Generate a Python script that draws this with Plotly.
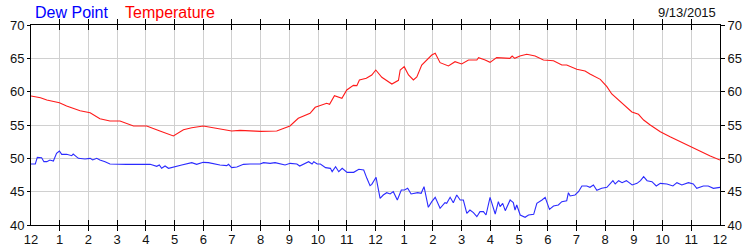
import plotly.graph_objects as go

hour_labels = ["12", "1", "2", "3", "4", "5", "6", "7", "8", "9", "10", "11",
               "12", "1", "2", "3", "4", "5", "6", "7", "8", "9", "10", "11", "12"]
chart_date = "9/13/2015"

temp_hours = [0, 0.33, 0.55, 0.99, 1.24, 1.71, 2.06, 2.4, 2.75, 3.1, 3.57, 4.03, 4.49, 4.96,
              5.31, 5.6, 6.0, 6.47, 6.99, 7.28, 7.63, 8.0, 8.56, 9.02, 9.31, 9.72, 9.9, 10.3,
              10.4, 10.57, 10.83, 11.0, 11.23, 11.35, 11.44, 11.68, 11.87, 12.01, 12.22, 12.57,
              12.8, 12.86, 13.0, 13.15, 13.32, 13.44, 13.61, 13.79, 13.96, 14.08, 14.25, 14.54,
              14.77, 15.0, 15.24, 15.53, 15.59, 15.82, 15.99, 16.22, 16.68, 16.76, 16.85, 17.03,
              17.27, 17.56, 17.85, 18.2, 18.49, 18.66, 19.01, 19.3, 19.47, 19.83, 20.06, 20.23,
              20.52, 20.7, 20.93, 21.16, 21.34, 21.57, 21.92, 22.26, 22.61, 22.96, 23.31, 23.66, 24.0]
temperature = [59.35, 59.1, 58.75, 58.35, 57.85, 57.15, 56.85, 55.95, 55.6, 55.6, 54.85, 54.85,
               54.1, 53.35, 54.3, 54.6, 54.85, 54.5, 54.1, 54.2, 54.1, 54.05, 54.1, 54.85, 56.0,
               56.75, 57.65, 58.25, 58.1, 59.4, 59.0, 60.25, 60.95, 60.9, 61.75, 62.0, 62.5, 63.25,
               62.15, 61.15, 61.7, 63.25, 63.75, 62.5, 61.75, 62.2, 64.0, 64.85, 65.5, 65.75, 64.35,
               63.85, 64.5, 64.15, 64.75, 64.75, 65.1, 64.75, 64.4, 65.1, 65.0, 65.35, 65.0, 65.35,
               65.6, 65.35, 64.75, 64.65, 64.0, 64.0, 63.35, 63.1, 62.65, 61.85, 60.75, 59.65, 58.5,
               57.85, 56.95, 56.6, 55.75, 55.0, 54.0, 53.25, 52.5, 51.75, 51.0, 50.35, 49.75]

dew_hours = [0, 0.15, 0.22, 0.37, 0.45, 0.55, 0.66, 0.78, 0.89, 0.99, 1.07, 1.24, 1.42, 1.47,
             1.65, 1.88, 2.06, 2.15, 2.29, 2.4, 2.58, 2.75, 3.33, 3.8, 4.15, 4.38, 4.47, 4.55,
             4.67, 4.79, 4.96, 5.25, 5.6, 5.77, 6.0, 6.18, 6.58, 6.82, 6.88, 6.99, 7.17, 7.4,
             7.63, 7.98, 8.1, 8.33, 8.5, 8.68, 8.85, 9.03, 9.26, 9.36, 9.5, 9.67, 9.79, 9.85,
             9.97, 10.08, 10.26, 10.43, 10.49, 10.61, 10.72, 10.84, 11.01, 11.24, 11.42, 11.59,
             11.7, 11.81, 11.87, 12.02, 12.16, 12.27, 12.39, 12.51, 12.62, 12.76, 12.9, 13.01,
             13.12, 13.24, 13.47, 13.59, 13.69, 13.84, 13.96, 14.08, 14.25, 14.42, 14.48, 14.6,
             14.71, 14.83, 14.95, 15.06, 15.18, 15.29, 15.41, 15.53, 15.64, 15.76, 15.85, 15.99,
             16.17, 16.28, 16.34, 16.43, 16.52, 16.69, 16.8, 16.86, 16.92, 17.04, 17.21, 17.33,
             17.51, 17.62, 17.8, 17.91, 18.06, 18.2, 18.37, 18.49, 18.66, 18.72, 18.78, 18.95,
             19.07, 19.19, 19.36, 19.47, 19.59, 19.71, 19.88, 20.06, 20.27, 20.35, 20.47, 20.59,
             20.74, 20.94, 21.11, 21.23, 21.34, 21.46, 21.63, 21.78, 21.92, 22.15, 22.36, 22.5,
             22.67, 22.9, 23.07, 23.19, 23.42, 23.59, 23.77, 24.0]
dew_point = [49.15, 49.15, 50.15, 50.1, 49.5, 49.5, 49.75, 49.6, 50.75, 51.1, 50.6, 50.6, 50.4,
             50.65, 50.0, 49.9, 50.0, 49.75, 50.0, 49.75, 49.5, 49.15, 49.1, 49.1, 49.1, 48.8,
             49.0, 48.5, 48.85, 48.5, 48.65, 49.0, 49.35, 49.1, 49.4, 49.35, 49.0, 48.9, 49.1,
             48.6, 48.7, 49.1, 49.15, 49.15, 49.35, 49.25, 49.35, 49.15, 49.0, 49.25, 49.15,
             48.85, 49.15, 49.5, 49.15, 49.5, 49.15, 49.15, 48.6, 48.5, 48.0, 48.75, 48.0, 48.5,
             47.9, 47.9, 48.35, 48.25, 47.0, 45.9, 46.1, 47.15, 44.0, 44.5, 44.85, 44.65, 45.0,
             43.75, 45.25, 45.25, 45.5, 44.65, 44.85, 44.75, 45.75, 42.65, 43.5, 44.15, 42.5,
             43.35, 43.25, 44.15, 43.35, 44.5, 43.75, 43.75, 41.75, 42.25, 41.85, 41.25, 42.0,
             42.0, 41.5, 44.15, 41.65, 43.5, 42.75, 43.25, 42.15, 43.75, 43.35, 42.25, 43.0,
             41.5, 41.15, 41.5, 41.6, 43.25, 43.75, 44.15, 42.35, 42.85, 43.0, 43.5, 43.65,
             44.85, 44.35, 44.5, 45.0, 45.85, 45.85, 45.65, 46.0, 45.2, 45.5, 45.65, 46.65,
             46.15, 46.65, 46.35, 46.65, 46.0, 46.25, 46.65, 47.25, 46.65, 46.5, 45.85, 46.25,
             46.15, 45.85, 46.35, 46.0, 46.35, 46.15, 45.5, 45.85, 45.85, 45.5, 45.65]

FONT = "Liberation Sans, Arial, sans-serif"
TICKFONT = dict(size=13, family=FONT, color="#111")

fig = go.Figure()
fig.add_trace(go.Scatter(x=dew_hours, y=dew_point, mode="lines",
                         line=dict(color="#2b2bff", width=1.1), name="Dew Point"))
fig.add_trace(go.Scatter(x=temp_hours, y=temperature, mode="lines", yaxis="y2",
                         line=dict(color="#ff1a1a", width=1.1), name="Temperature"))

L, R, T, B = 31, 30, 25, 25
W, H = 750, 250
fig.update_layout(
    width=W, height=H,
    margin=dict(l=L, r=R, t=T, b=B),
    paper_bgcolor="white", plot_bgcolor="white",
    showlegend=False,
    font=dict(family=FONT, size=13, color="#111"),
    xaxis=dict(range=[0, 24], tickmode="array", tickvals=list(range(25)), ticktext=hour_labels,
               showgrid=True, gridcolor="#d0d0d0", gridwidth=1,
               showline=True, linecolor="black", linewidth=1, mirror="allticks",
               ticks="inside", ticklen=5, tickcolor="black", zeroline=False,
               ticklabelstandoff=2, tickfont=TICKFONT, automargin=False),
    yaxis=dict(range=[40, 70], tickmode="linear", tick0=40, dtick=5,
               showgrid=True, gridcolor="#d0d0d0", gridwidth=1,
               showline=True, linecolor="black", linewidth=1, mirror=True,
               ticks="outside", ticklen=3, tickcolor="black", zeroline=False,
               tickfont=TICKFONT, automargin=False),
    yaxis2=dict(range=[40, 70], tickmode="linear", tick0=40, dtick=5, overlaying="y",
                side="right", showgrid=False, showline=True, linecolor="black", linewidth=1,
                ticks="outside", ticklen=4, tickcolor="black", zeroline=False,
                tickfont=TICKFONT, automargin=False),
)

pw, ph = W - L - R, H - T - B
def px(xp):
    return (xp - L) / pw
def py(yp):
    return (H - B - yp) / ph

fig.add_annotation(text="Dew Point", x=px(33), y=py(12), xref="paper", yref="paper",
                   xanchor="left", yanchor="middle", showarrow=False,
                   font=dict(family=FONT, size=16, color="#0000ff"))
fig.add_annotation(text="Temperature", x=px(123), y=py(12), xref="paper", yref="paper",
                   xanchor="left", yanchor="middle", showarrow=False,
                   font=dict(family=FONT, size=16, color="#ff0000"))
fig.add_annotation(text=chart_date, x=px(718), y=py(12), xref="paper", yref="paper",
                   xanchor="right", yanchor="middle", showarrow=False,
                   font=dict(family=FONT, size=13, color="#111"))

fig.write_html("out.html")
